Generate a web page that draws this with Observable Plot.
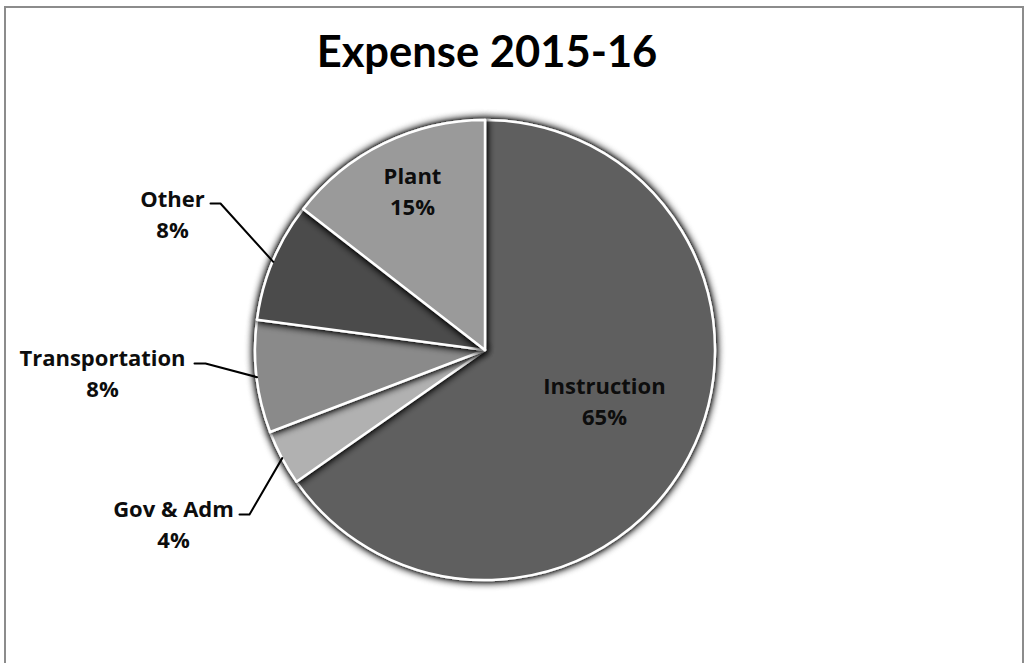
<!DOCTYPE html>
<html>
<head>
<meta charset="utf-8">
<script src="https://cdn.jsdelivr.net/npm/d3@7"></script>
<script src="https://cdn.jsdelivr.net/npm/@observablehq/plot@0.6"></script>
<style>
  html, body { margin: 0; padding: 0; background: #fff; width: 1025px; height: 663px; overflow: hidden; }
  #frame { position: absolute; left: 4px; top: 6px; width: 1020px; height: 720px; border: 2px solid #8c8c8c; box-sizing: border-box; }
  #title { position: absolute; left: 0; top: 25px; width: 974px; margin: 0; text-align: center;
           font: bold 43.5px Lato, "Open Sans", sans-serif; line-height: 50px; color: #000; }
  #chart { position: absolute; left: 0; top: 0; }
</style>
</head>
<body>
<div id="frame"></div>
<h1 id="title">Expense 2015-16</h1>
<div id="chart"></div>
<script>
// ---- data ----
const categories = ["Instruction", "Gov & Adm", "Transportation", "Other", "Plant"];
const shares = [65.3, 3.9, 7.9, 8.4, 14.5];
const percentLabels = ["65%", "4%", "8%", "8%", "15%"];
const greys = ["#5f5f5f", "#b1b1b1", "#8a8a8a", "#4c4c4c", "#9a9a9a"];

// ---- layout (pixels, relative to pie centre) ----
const W = 1025, H = 663, CX = 485, CY = 350, R = 230;
const labelAt = {
  "Instruction": [119, 49],
  "Gov & Adm": [-312, 172],
  "Transportation": [-383, 21],
  "Other": [-313, -138],
  "Plant": [-73, -161]
};
const leaderFrom = {
  "Gov & Adm": [[-246, 164], [-236, 164]],
  "Transportation": [[-291, 13], [-280, 13]],
  "Other": [[-275, -147], [-265, -147]]
};

const data = categories.map((c, i) => ({category: c, share: shares[i], pct: percentLabels[i]}));
const arcs = d3.pie().sort(null).value(d => d.share)(data);
arcs.forEach(a => { a.data.mid = (a.startAngle + a.endAngle) / 2; });

const labelData = data.map(d => ({text: d.category + "\n" + d.pct, x: labelAt[d.category][0], y: labelAt[d.category][1]}));
const leaderData = [];
for (const d of data) {
  const from = leaderFrom[d.category];
  if (!from) continue;
  for (const p of from) leaderData.push({category: d.category, x: p[0], y: p[1]});
  leaderData.push({category: d.category, x: R * Math.sin(d.mid), y: -R * Math.cos(d.mid)});
}

function pieMark(index, scales, values, dimensions) {
  const x0 = scales.x(0), y0 = scales.y(0);
  const r = scales.x(R) - scales.x(0);
  const color = d3.scaleOrdinal(categories, greys);
  const g = d3.create("svg:g").attr("transform", `translate(${x0},${y0})`);
  const f = g.append("defs").append("filter")
    .attr("id", "sliceShadow").attr("filterUnits", "userSpaceOnUse")
    .attr("x", -r - 60).attr("y", -r - 60).attr("width", 2 * r + 120).attr("height", 2 * r + 120);
  f.append("feGaussianBlur").attr("in", "SourceAlpha").attr("stdDeviation", 4.5).attr("result", "b");
  f.append("feComponentTransfer").attr("in", "b").attr("result", "c")
    .append("feFuncA").attr("type", "linear").attr("slope", 1.6);
  const m = f.append("feMerge");
  m.append("feMergeNode").attr("in", "c");
  m.append("feMergeNode").attr("in", "SourceGraphic");
  const arc = d3.arc().innerRadius(0).outerRadius(r);
  g.selectAll("path").data(arcs).join("path")
    .attr("d", arc)
    .attr("fill", d => color(d.data.category))
    .attr("stroke", "#fff")
    .attr("stroke-width", 2.5)
    .attr("stroke-linejoin", "round")
    .attr("filter", "url(#sliceShadow)");
  return g.node();
}

const chart = Plot.plot({
  width: W,
  height: H,
  margin: 0,
  style: {background: "transparent", overflow: "visible"},
  x: {domain: [-CX, W - CX], range: [0, W], axis: null},
  y: {domain: [-CY, H - CY], range: [0, H], axis: null},
  marks: [
    pieMark,
    Plot.line(leaderData, {x: "x", y: "y", z: "category", stroke: "#000", strokeWidth: 2, curve: "linear"}),
    Plot.text(labelData, {
      x: "x", y: "y", text: "text",
      fontSize: 22, fontWeight: "bold", fontFamily: "'Open Sans', Lato, sans-serif",
      fill: "#0d0d0d", lineHeight: 1.43, textAnchor: "middle", lineAnchor: "middle"
    })
  ]
});
document.getElementById("chart").appendChild(chart);
</script>
</body>
</html>
